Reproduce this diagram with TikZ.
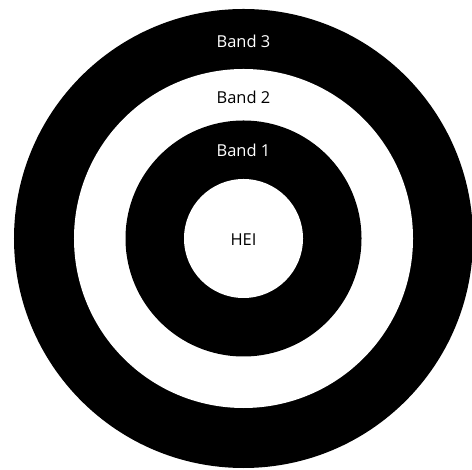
\documentclass[tikz,border=0pt]{standalone}
\usepackage{fontspec}
\setmainfont{Open Sans}
\usepackage{tikz}
\usetikzlibrary{positioning}
\tikzset{
  ringblack/.style={fill=black, draw=none},
  ringwhite/.style={fill=white, draw=none},
  bandlbl/.style={font=\fontsize{16.5}{18}\selectfont, inner sep=0pt, anchor=center},
}

\begin{document}
\begin{tikzpicture}[x=1bp, y=1bp]
    \useasboundingbox (0,0) rectangle (472,470);
    \coordinate (ctr) at (243.5,231.5);
    % --- rings, from the outside in ---
    \fill[ringblack] (ctr) circle (229.5bp);
    \fill[ringwhite] (ctr) circle (169.5bp);
    \fill[ringblack] (ctr) circle (118bp);
    \fill[ringwhite] (ctr) circle (59.5bp);
    % --- labels ---
    \node[bandlbl, white] (band3) at (243.5,429) {Band 3};
    \node[bandlbl, black] (band2) at (243.5,372.5) {Band 2};
    \node[bandlbl, white] (band1) at (243.5,320) {Band 1};
    \node[bandlbl, black] (hei) at (243.5,230) {HEI};
\end{tikzpicture}
\end{document}
